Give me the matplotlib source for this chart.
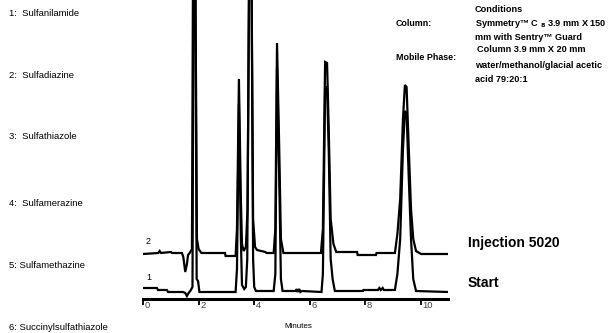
import matplotlib
matplotlib.use("Agg")
import matplotlib.pyplot as plt

W, H = 612, 333

# chromatogram traces: time (min), signal (px above axis)
trace1_t = [0, 0.50, 0.54, 0.86, 0.90, 1.44, 1.52, 1.58, 1.64, 1.70, 1.78, 1.82, 1.88, 1.93, 1.98, 2.03,
            3.33, 3.38, 3.45, 3.52, 3.56, 3.64, 3.70, 3.75, 3.82, 3.90, 3.96, 4.00, 4.06,
            4.70, 4.76, 4.82, 4.90, 4.96, 5.02, 5.50, 5.53, 5.56, 5.62, 5.66, 5.72, 6.42,
            6.47, 6.55, 6.62, 6.68, 6.75, 6.82, 6.90, 7.91, 7.93, 8.45, 8.50, 8.55, 8.62, 8.66,
            9.06, 9.15, 9.25, 9.35, 9.42, 9.48, 9.56, 9.64, 9.72, 9.82, 10.97]
trace1_s = [11, 11, 9, 9, 7, 7, 6, 3, 6, 8, 12, 340, 340, 20, 18, 7,
            7, 30, 195, 60, 14, 10, 12, 40, 340, 340, 40, 12, 8,
            8, 25, 231, 120, 20, 8, 8, 10, 7, 10, 7, 8, 7,
            25, 212, 212, 150, 40, 20, 8, 8, 9, 9, 11, 9, 11, 9,
            9, 25, 60, 150, 188, 186, 120, 60, 20, 8, 7]

trace2_t = [0, 0.55, 0.60, 0.65, 1.00, 1.05, 1.40, 1.45, 1.52, 1.58, 1.62, 1.68, 1.76, 1.80, 1.88,
            1.94, 2.00, 2.10, 2.95, 2.97, 3.33, 3.38, 3.45, 3.52, 3.56, 3.62, 3.70, 3.76, 3.82,
            3.90, 3.96, 4.03, 4.10, 4.40, 4.45, 4.70, 4.76, 4.82, 4.90, 4.96, 5.05, 6.40,
            6.47, 6.55, 6.62, 6.68, 6.75, 6.85, 6.95, 7.70, 7.72, 8.38, 8.40, 9.06, 9.15,
            9.25, 9.35, 9.42, 9.48, 9.56, 9.64, 9.72, 9.82, 10.0, 10.97]
trace2_s = [45, 46, 48, 46, 47, 46, 46, 42, 27, 35, 44, 46, 50, 340, 340,
            60, 50, 46, 46, 43, 43, 70, 220, 100, 55, 48, 52, 90, 340,
            340, 80, 52, 49, 47, 46, 46, 70, 256, 150, 60, 46, 46,
            70, 237, 236, 170, 80, 55, 47, 47, 44, 44, 46, 46, 65,
            100, 180, 214, 212, 150, 90, 60, 48, 45, 45]

xticks = [0, 2, 4, 6, 8, 10]
compounds = ["1:  Sulfanilamide", "2:  Sulfadiazine", "3:  Sulfathiazole",
             "4:  Sulfamerazine", "5: Sulfamethazine", "6: Succinylsulfathiazole"]
compound_y = [14, 76, 137, 204, 266, 328]

FONT = ["Liberation Sans", "DejaVu Sans"]
plt.rcParams["font.family"] = FONT


def fx(x):
    return x / W


def fy(y):
    return 1 - y / H


fig = plt.figure(figsize=(W / 100, H / 100), dpi=100)
ax = fig.add_axes([fx(143), 34 / H, 305 / W, 299 / H])

ax.plot(trace1_t, trace1_s, color="black", lw=1.6, solid_joinstyle="miter")
ax.plot(trace2_t, trace2_s, color="black", lw=1.6, solid_joinstyle="miter")

ax.set_xlim(0, 10.97)
ax.set_ylim(0, 299)
for side in ["left", "top", "right"]:
    ax.spines[side].set_visible(False)
ax.spines["bottom"].set_linewidth(2.2)
ax.set_yticks([])
ax.set_xticks(xticks)
ax.set_xticklabels([])
ax.tick_params(axis="x", direction="out", length=4, width=1.3)
for t in xticks:
    ax.annotate(str(t), (t, 0), xytext=(1, -1.5), textcoords="offset points",
                ha="left", va="top", fontsize=6.8, color="#444444")

# trace labels
fig.text(fx(146), fy(241), "2", fontsize=6.5, va="center", ha="left")
fig.text(fx(146), fy(277), "1", fontsize=6.5, va="center", ha="left")
fig.text(fx(298), fy(327), "Minutes", fontsize=5.8, va="center", ha="center")

# compound list
for name, y in zip(compounds, compound_y):
    fig.text(fx(9), fy(y), name, fontsize=6.8, va="center", ha="left")

# conditions block
bold = dict(fontsize=6.6, fontweight="bold", va="center", ha="left")
fig.text(fx(475), fy(10), "Conditions", **bold)
fig.text(fx(396), fy(24), "Column:", fontsize=6.4, fontweight="bold", va="center", ha="left")
fig.text(fx(475), fy(24), r"Symmetry™ C $_\mathbf{8}$ 3.9 mm X 150", **bold)
fig.text(fx(475), fy(37), "mm with Sentry™ Guard", **bold)
fig.text(fx(477), fy(50), "Column 3.9 mm X 20 mm", **bold)
fig.text(fx(396), fy(57), "Mobile Phase:", fontsize=6.4, fontweight="bold", va="center", ha="left")
fig.text(fx(475), fy(65), "water/methanol/glacial acetic", **bold)
fig.text(fx(475), fy(79), "acid 79:20:1", **bold)

fig.text(fx(468), fy(243), "Injection 5020", fontsize=10, fontweight="bold", va="center", ha="left")
fig.text(fx(468), fy(283), "Start", fontsize=10, fontweight="bold", va="center", ha="left")

fig.savefig("out.png", dpi=100)
